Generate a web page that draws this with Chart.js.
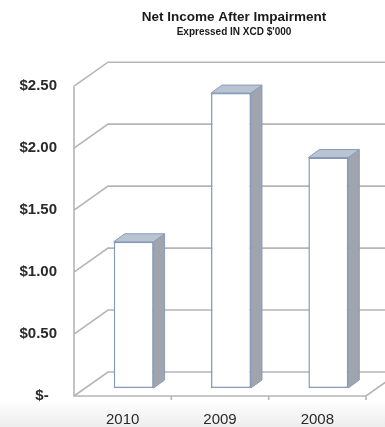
<!DOCTYPE html>
<html>
<head>
<meta charset="utf-8">
<script src="https://cdn.jsdelivr.net/npm/chart.js@4/dist/chart.umd.min.js"></script>
<style>
  html, body { margin: 0; padding: 0; background: #fff; }
  #wrap {
    width: 385px; height: 427px; overflow: hidden; position: relative;
    background: linear-gradient(to bottom, #ffffff 0px, #ffffff 400px, #ededed 427px);
  }
</style>
</head>
<body>
<div id="wrap"><canvas id="chart" width="468" height="427"></canvas></div>
<script>
// data
const categories = ["2010", "2009", "2008"];
const netIncome = [1.18, 2.38, 1.86];
const tickValues = [0, 0.5, 1, 1.5, 2, 2.5];
const tickLabels = ["$-  ", "$0.50", "$1.00", "$1.50", "$2.00", "$2.50"];

// fake 3D: back wall offset, bar plane offset, bar depth
const wall = { dx: 34, dy: -24 };
const shift = { dx: 11, dy: -8 };
const barDepth = { dx: 11, dy: -8 };

const threeD = {
  id: "threeD",
  beforeDatasetsDraw(chart) {
    const { ctx, chartArea: a, scales: { y } } = chart;
    ctx.save();
    ctx.strokeStyle = "#b5b5b5";
    ctx.lineWidth = 1.6;
    ctx.beginPath();
    tickValues.forEach(v => {
      const py = y.getPixelForValue(v);
      ctx.moveTo(a.left, py);
      ctx.lineTo(a.left + wall.dx, py + wall.dy);
      ctx.lineTo(a.right + wall.dx, py + wall.dy);
    });
    // front axis + floor
    ctx.moveTo(a.left, y.getPixelForValue(2.5));
    ctx.lineTo(a.left, a.bottom);
    ctx.lineTo(a.right, a.bottom);
    ctx.lineTo(a.right + wall.dx, a.bottom + wall.dy);
    const w = (a.right - a.left) / categories.length;
    for (let i = 1; i <= categories.length; i++) {
      ctx.moveTo(a.left + i * w, a.bottom);
      ctx.lineTo(a.left + i * w, a.bottom + 4);
    }
    ctx.stroke();
    ctx.restore();
    // bars sit a bit deeper than the front plane
    ctx.save();
    ctx.translate(shift.dx, shift.dy);
  },
  afterDatasetsDraw(chart) {
    const { ctx } = chart;
    ctx.restore();
    const meta = chart.getDatasetMeta(0);
    ctx.save();
    ctx.lineWidth = 1;
    ctx.strokeStyle = "#8a9bb8";
    meta.data.forEach(bar => {
      const l = bar.x - bar.width / 2 + shift.dx;
      const r = bar.x + bar.width / 2 + shift.dx;
      const t = bar.y + shift.dy;
      const b = bar.base + shift.dy;
      // side
      ctx.fillStyle = "#a0a5ad";
      ctx.beginPath();
      ctx.moveTo(r, t);
      ctx.lineTo(r + barDepth.dx, t + barDepth.dy);
      ctx.lineTo(r + barDepth.dx, b + barDepth.dy);
      ctx.lineTo(r, b);
      ctx.closePath();
      ctx.fill();
      ctx.stroke();
      // top
      ctx.fillStyle = "#b9c4d3";
      ctx.beginPath();
      ctx.moveTo(l, t);
      ctx.lineTo(l + barDepth.dx, t + barDepth.dy);
      ctx.lineTo(r + barDepth.dx, t + barDepth.dy);
      ctx.lineTo(r, t);
      ctx.closePath();
      ctx.fill();
      ctx.stroke();
    });
    ctx.restore();
  }
};

new Chart(document.getElementById("chart"), {
  type: "bar",
  data: {
    labels: categories,
    datasets: [{
      data: netIncome,
      backgroundColor: "#ffffff",
      borderColor: "#8599bb",
      borderWidth: 1.5,
      borderSkipped: false,
      categoryPercentage: 1,
      barPercentage: 0.41,
      clip: false
    }]
  },
  options: {
    responsive: false,
    animation: false,
    layout: { padding: 0 },
    plugins: {
      legend: { display: false },
      tooltip: { enabled: false },
      title: {
        display: true,
        text: "Net Income After Impairment",
        color: "#1a1a1a",
        font: { family: "Liberation Sans", size: 13.5, weight: "bold" },
        padding: { top: 9, bottom: 0 }
      },
      subtitle: {
        display: true,
        text: "Expressed IN XCD $'000",
        color: "#1a1a1a",
        font: { family: "Liberation Sans", size: 10, weight: "bold" },
        padding: { top: 1, bottom: 48 }
      }
    },
    scales: {
      x: {
        afterFit: s => { s.height = 31; },
        grid: { display: false, drawTicks: false },
        border: { display: false },
        ticks: {
          color: "#2a2a2a",
          font: { family: "Liberation Sans", size: 15 },
          padding: 15
        }
      },
      y: {
        min: 0,
        max: 2.5,
        afterFit: s => { s.width = 74; },
        grid: { display: false, drawTicks: false },
        border: { display: false },
        ticks: {
          stepSize: 0.5,
          padding: 17,
          color: "#2a2a2a",
          font: { family: "Liberation Sans", size: 15, weight: "bold" },
          callback: v => tickLabels[tickValues.indexOf(Math.round(v * 2) / 2)]
        }
      },
      // empty right axis: keeps room for the cropped right part of the wall
      yRight: {
        position: "right",
        afterFit: s => { s.width = 102; },
        grid: { display: false, drawTicks: false },
        border: { display: false },
        ticks: { display: false }
      }
    }
  },
  plugins: [threeD]
});
</script>
</body>
</html>
